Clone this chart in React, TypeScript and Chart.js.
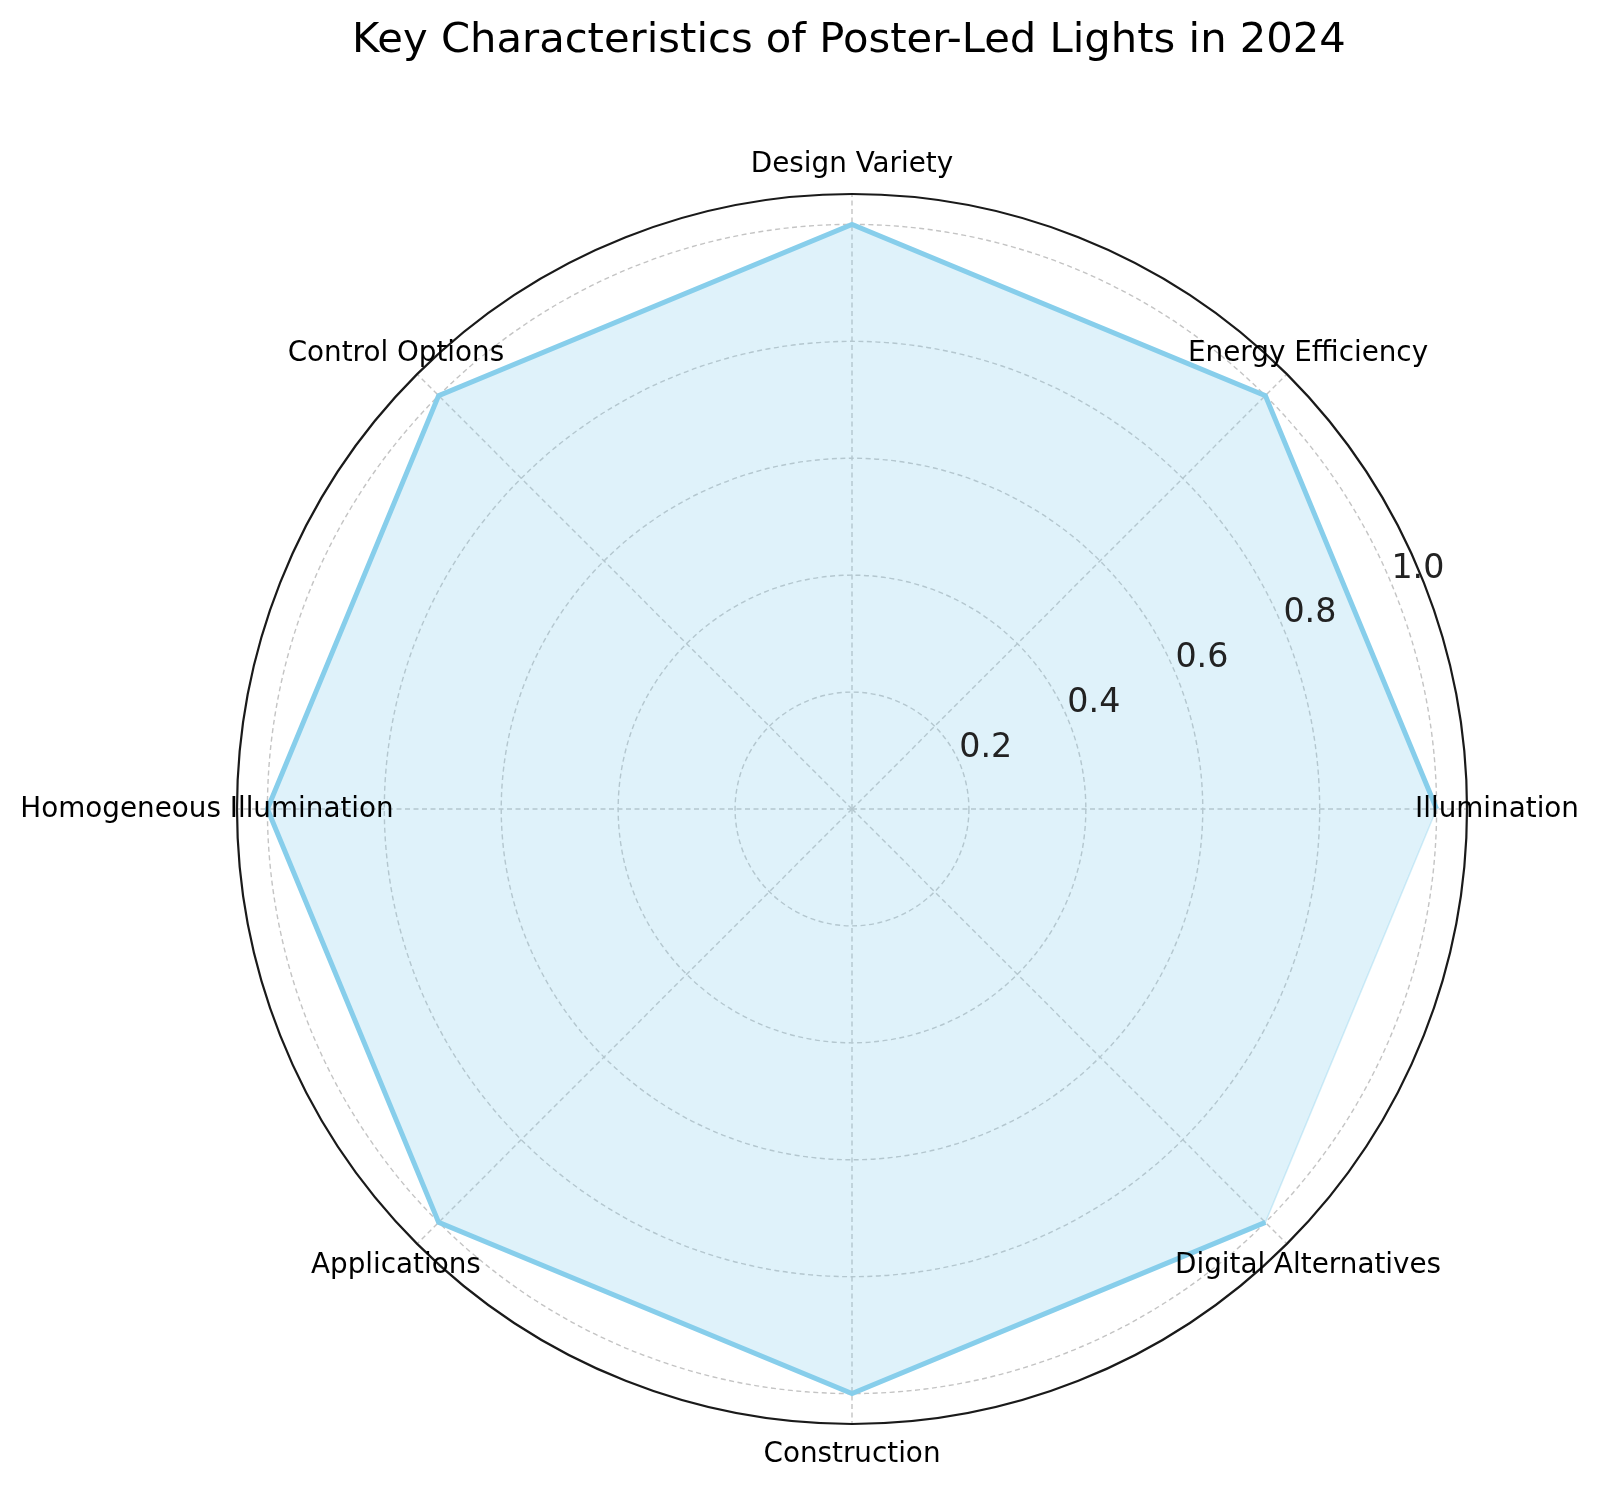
import React, { useEffect, useRef } from "react";
import { Chart, registerables } from "chart.js";

Chart.register(...registerables);

const TITLE = "Key Characteristics of Poster-Led Lights in 2024";
// categories in the original (counter-clockwise from the right) order
const categories = [
  "Illumination",
  "Energy Efficiency",
  "Design Variety",
  "Control Options",
  "Homogeneous Illumination",
  "Applications",
  "Construction",
  "Digital Alternatives",
];
const values = [1.0, 1.0, 1.0, 1.0, 1.0, 1.0, 1.0, 1.0];
const radialTicks = [0.2, 0.4, 0.6, 0.8, 1.0];
const tickLabels = ["0.2", "0.4", "0.6", "0.8", "1.0"];
const R_MAX = 1.052;

// Chart.js walks clockwise, so reverse to get the counter-clockwise order
const orderedLabels = [...categories].reverse();
const orderedValues = [...values].reverse();

const FONT = '"DejaVu Sans", "Liberation Sans", sans-serif';
const LINE_COLOR = "#87CEEB";

const decorPlugin = {
  id: "decor",
  afterDatasetsUpdate(chart: any) {
    // the outline (dataset 0) is an open polyline, as in the original
    const meta = chart.getDatasetMeta(0);
    const line = meta && meta.dataset;
    if (line) {
      line._loop = false;
      line._fullLoop = false;
      line._segments = undefined;
      line._path = undefined;
    }
  },
  beforeDraw(chart: any) {
    const ctx = chart.ctx;
    ctx.save();
    ctx.fillStyle = "#ffffff";
    ctx.fillRect(0, 0, chart.width, chart.height);
    ctx.restore();
  },
  afterDraw(chart: any) {
    const s = chart.scales.r;
    const ctx = chart.ctx;
    ctx.save();
    // outer spine
    ctx.beginPath();
    ctx.arc(s.xCenter, s.yCenter, s.drawingArea, 0, Math.PI * 2);
    ctx.strokeStyle = "#1a1a1a";
    ctx.lineWidth = 2.2;
    ctx.setLineDash([]);
    ctx.stroke();

    // category labels
    ctx.font = "27.8px " + FONT;
    ctx.fillStyle = "#000000";
    ctx.textAlign = "center";
    ctx.textBaseline = "alphabetic";
    const labelDist = (s.drawingArea * 645) / 615;
    orderedLabels.forEach((lab, i) => {
      const p = s.getPointPosition(i, labelDist);
      ctx.fillText(lab, p.x, p.y + 7.7);
    });

    // radial tick labels at 22.5 degrees
    ctx.font = "33.3px " + FONT;
    ctx.fillStyle = "#222222";
    const a = (22.5 * Math.PI) / 180;
    radialTicks.forEach((v, i) => {
      const d = s.getDistanceFromCenterForValue(v);
      const x = s.xCenter + d * Math.cos(a) + 25.8;
      const y = s.yCenter - d * Math.sin(a) - 7.6;
      ctx.fillText(tickLabels[i], x, y);
    });

    // title
    ctx.font = "41.7px " + FONT;
    ctx.fillStyle = "#000000";
    ctx.fillText(TITLE, s.xCenter - 3, 44);
    ctx.restore();
  },
};

export default function App() {
  const ref = useRef<HTMLCanvasElement>(null);
  useEffect(() => {
    const chart = new Chart(ref.current as HTMLCanvasElement, {
      type: "radar",
      data: {
        labels: orderedLabels,
        datasets: [
          {
            // outline
            data: orderedValues,
            borderColor: LINE_COLOR,
            backgroundColor: "rgba(0,0,0,0)",
            borderWidth: 5,
            borderJoinStyle: "miter",
            borderCapStyle: "butt",
            fill: false,
            pointRadius: 0,
            pointHoverRadius: 0,
            tension: 0,
          } as any,
          {
            // filled area
            data: orderedValues,
            backgroundColor: "rgba(135,206,235,0.27)",
            borderColor: "rgba(135,206,235,0.35)",
            borderWidth: 1.5,
            fill: true,
            pointRadius: 0,
            pointHoverRadius: 0,
            tension: 0,
          } as any,
        ],
      },
      options: {
        responsive: false,
        animation: false,
        devicePixelRatio: 1,
        layout: { padding: { left: 229, top: 186, right: 122, bottom: 55 } },
        plugins: {
          legend: { display: false },
          tooltip: { enabled: false },
          title: { display: false },
        },
        scales: {
          r: {
            min: 0,
            max: R_MAX,
            startAngle: 135,
            afterBuildTicks: (scale: any) => {
              scale.ticks = [0, ...radialTicks].map((v) => ({ value: v }));
            },
            ticks: { display: false },
            pointLabels: { display: false },
            grid: { circular: true, color: "#c4c4c4", lineWidth: 1.4 },
            border: { dash: [5, 3.5] },
            angleLines: {
              color: "#c4c4c4",
              lineWidth: 1.4,
              borderDash: [5, 3.5],
            },
          } as any,
        },
      },
      plugins: [decorPlugin],
    });
    return () => chart.destroy();
  }, []);
  return (
    <div style={{ width: 1582, height: 1472 }}>
      <canvas
        ref={ref}
        width={1582}
        height={1472}
        style={{ display: "block", width: 1582, height: 1472 }}
      />
    </div>
  );
}
